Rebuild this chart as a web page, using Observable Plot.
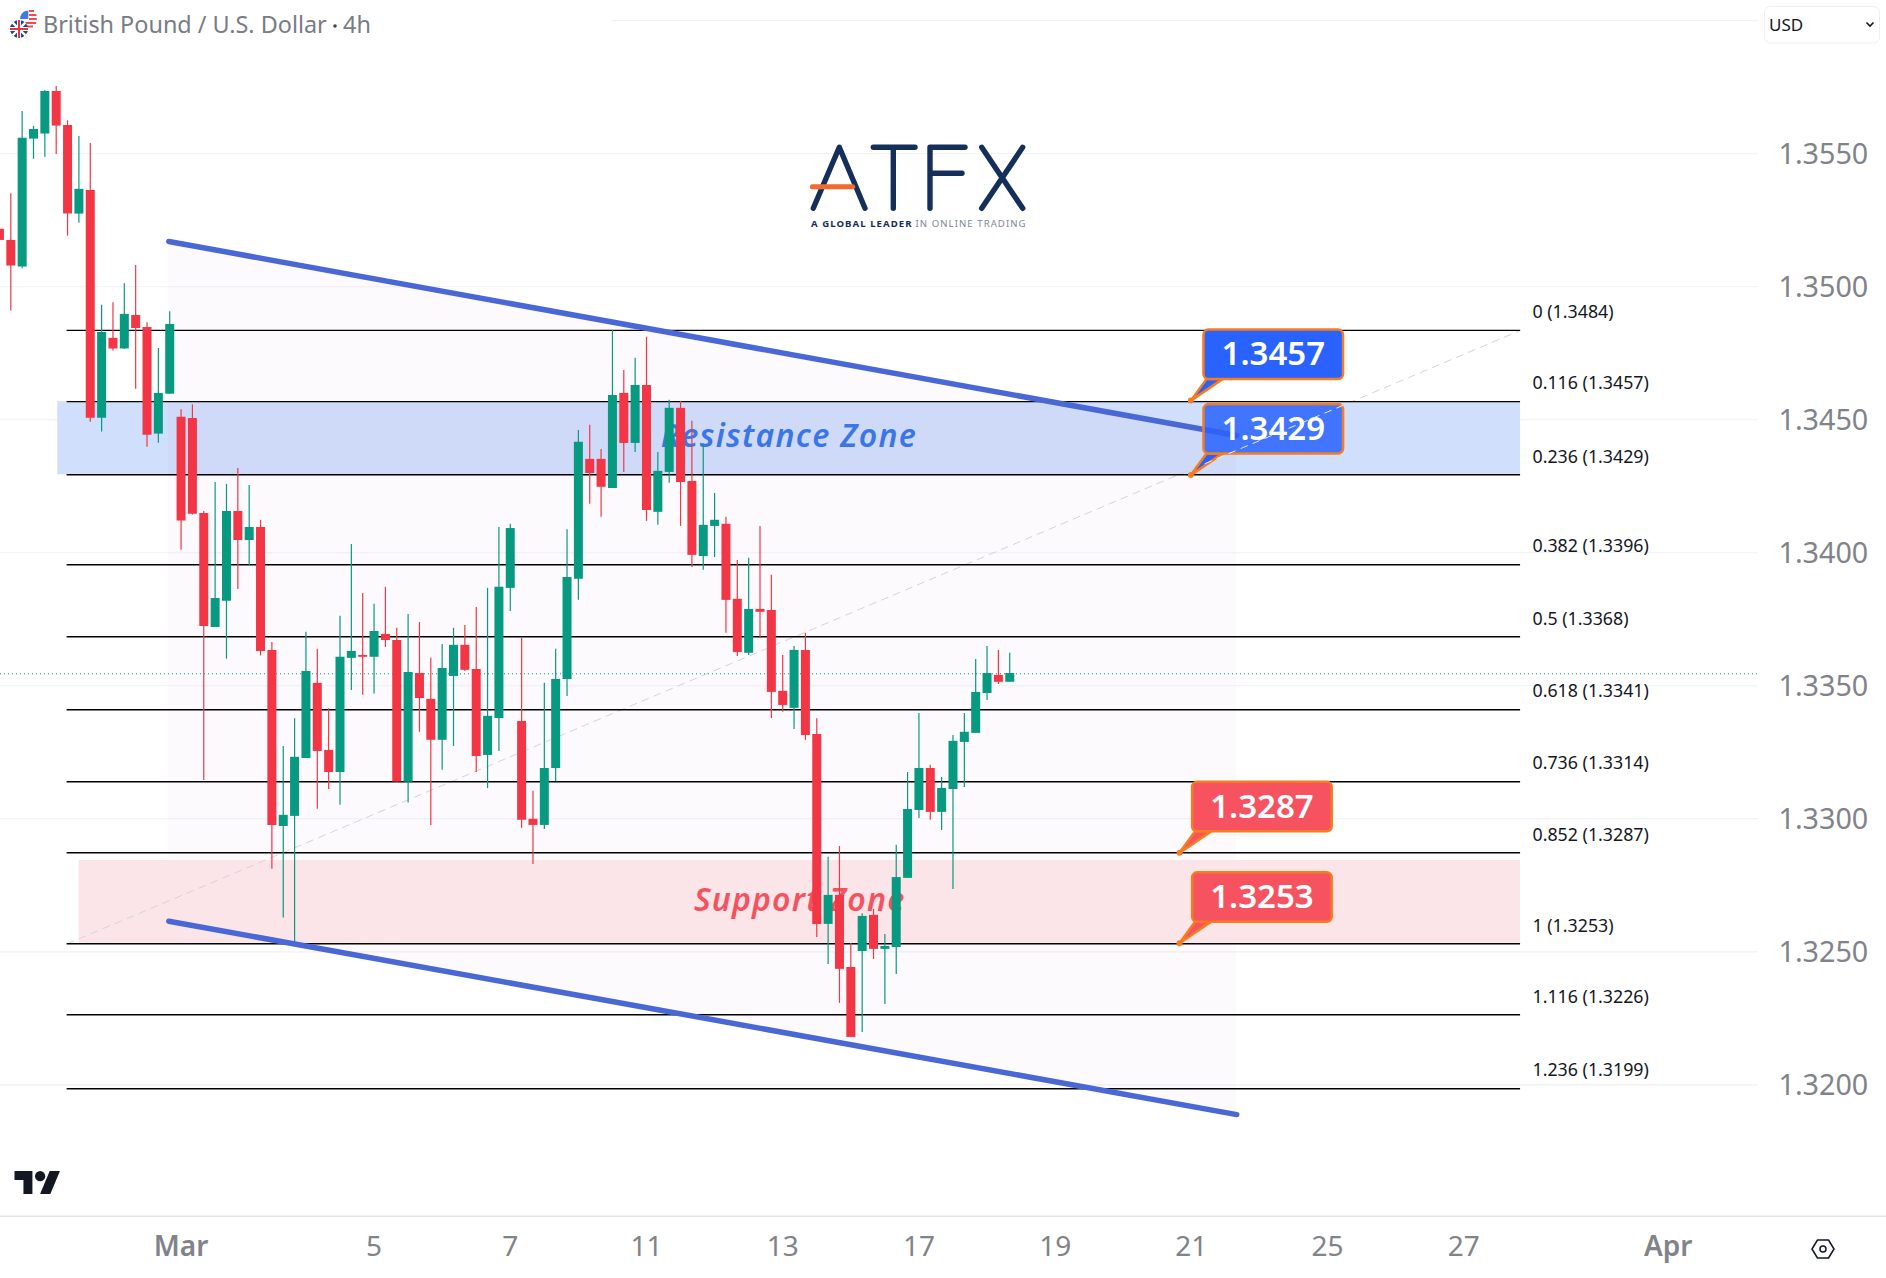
<!DOCTYPE html>
<html>
<head>
<meta charset="utf-8">
<title>GBP/USD 4h</title>
<script src="https://cdn.jsdelivr.net/npm/d3@7"></script>
<script src="https://cdn.jsdelivr.net/npm/@observablehq/plot@0.6"></script>
<style>
  html, body { margin: 0; padding: 0; background: #fff; }
  svg { display: block; }
</style>
</head>
<body>
<div id="chart"></div>
<script>
// Candles, in bar order. The first bar sits one slot left of index 0.
const open = [1.35216,1.35174,1.35074,1.35555,1.35574,1.35734,1.35606,1.35273,1.35362,1.34506,1.34806,1.34766,1.34892,1.34847,1.34446,1.34596,1.34509,1.34505,1.34148,1.33719,1.33818,1.34155,1.34046,1.34095,1.33633,1.32971,1.33009,1.33227,1.33509,1.33257,1.33174,1.33603,1.33614,1.33607,1.33693,1.33670,1.33137,1.33546,1.33449,1.33295,1.33535,1.33652,1.33561,1.33238,1.33377,1.33866,1.33366,1.32998,1.32975,1.33189,1.33524,1.33900,1.34351,1.34351,1.34242,1.34599,1.34411,1.34629,1.34152,1.34302,1.34543,1.34268,1.33986,1.34099,1.34107,1.33825,1.33622,1.33787,1.33783,1.33479,1.33415,1.33633,1.33317,1.32603,1.32712,1.32441,1.32501,1.32637,1.32509,1.32516,1.32776,1.33031,1.33189,1.33024,1.33110,1.33287,1.33321,1.33471,1.33539,1.33513];
const high = [1.35216,1.35350,1.35659,1.35603,1.35738,1.35753,1.35624,1.35565,1.35538,1.34930,1.34940,1.35011,1.35080,1.34865,1.34768,1.34906,1.34538,1.34556,1.34155,1.34264,1.34257,1.34317,1.34253,1.34122,1.33663,1.33272,1.33376,1.33701,1.33637,1.33414,1.33761,1.34031,1.33847,1.33806,1.33870,1.33716,1.33768,1.33738,1.33603,1.33655,1.33716,1.33727,1.33794,1.33866,1.34095,1.34107,1.33678,1.33103,1.33509,1.33637,1.34086,1.34460,1.34479,1.34388,1.34836,1.34685,1.34731,1.34810,1.34377,1.34573,1.34569,1.34494,1.34410,1.34223,1.34133,1.33971,1.33979,1.34099,1.33915,1.33614,1.33648,1.33697,1.33376,1.32855,1.32896,1.32531,1.32643,1.32659,1.32565,1.32900,1.33174,1.33396,1.33201,1.33155,1.33313,1.33396,1.33599,1.33648,1.33633,1.33622];
const low = [1.35174,1.34909,1.35068,1.35479,1.35487,1.35497,1.35190,1.35239,1.34491,1.34454,1.34758,1.34764,1.34615,1.34397,1.34412,1.34596,1.34009,1.34142,1.33144,1.33719,1.33600,1.33862,1.33950,1.33612,1.32810,1.32627,1.32536,1.33227,1.33036,1.33110,1.33051,1.33482,1.33464,1.33469,1.33644,1.33138,1.33059,1.33325,1.32975,1.33182,1.33272,1.33554,1.33174,1.33114,1.33253,1.33779,1.32964,1.32828,1.32960,1.33140,1.33460,1.33821,1.34182,1.34133,1.34242,1.34302,1.34377,1.34118,1.34103,1.34261,1.34099,1.33945,1.33934,1.33982,1.33697,1.33610,1.33614,1.33678,1.33377,1.33400,1.33336,1.33295,1.32554,1.32452,1.32306,1.32178,1.32197,1.32471,1.32302,1.32415,1.32776,1.33001,1.32994,1.32956,1.32734,1.33118,1.33321,1.33445,1.33505,1.33513];
const close = [1.35174,1.35078,1.35558,1.35591,1.35734,1.35604,1.35273,1.35366,1.34506,1.34828,1.34766,1.34896,1.34843,1.34442,1.34599,1.34858,1.34119,1.34145,1.33723,1.33828,1.34155,1.34046,1.34095,1.33629,1.32975,1.33013,1.33231,1.33554,1.33253,1.33174,1.33607,1.33629,1.33607,1.33704,1.33670,1.33138,1.33550,1.33452,1.33295,1.33565,1.33652,1.33558,1.33234,1.33385,1.33870,1.34091,1.32994,1.32975,1.33189,1.33524,1.33907,1.34415,1.34298,1.34246,1.34591,1.34411,1.34629,1.34159,1.34306,1.34543,1.34264,1.33990,1.34103,1.34122,1.33821,1.33625,1.33787,1.33776,1.33475,1.33426,1.33633,1.33313,1.32603,1.32712,1.32434,1.32178,1.32633,1.32509,1.32520,1.32779,1.33035,1.33189,1.33024,1.33114,1.33291,1.33325,1.33475,1.33546,1.33513,1.33546];
const firstBar = -1;

// Price and time axes
const priceTicks = [1.32, 1.325, 1.33, 1.335, 1.34, 1.345, 1.35, 1.355];
const dayTicks = [32, 44, 56, 68, 80, 92, 104, 116, 128];
const dayLabels = ["5", "7", "11", "13", "17", "19", "21", "25", "27"];
const monthTicks = [15, 146];
const monthLabels = ["Mar", "Apr"];
const lastPrice = 1.33545;

// Fibonacci retracement
const fibLevels = [1.34836, 1.34568, 1.34293, 1.33955, 1.33684, 1.33410, 1.33139, 1.32872, 1.32530, 1.32263, 1.31985];
const fibLabels = ["0 (1.3484)", "0.116 (1.3457)", "0.236 (1.3429)", "0.382 (1.3396)", "0.5 (1.3368)", "0.618 (1.3341)", "0.736 (1.3314)", "0.852 (1.3287)", "1 (1.3253)", "1.116 (1.3226)", "1.236 (1.3199)"];
const fibStart = 4.96, fibEnd = 133, fibLabelBar = 134.05;
const diagonalOverBox = [{x: 105.2, y: 1.34335}, {x: 117.3, y: 1.34553}];

// Falling channel
const channelBars = [13.92, 108];
const channelUpper = [1.35170, 1.34441];
const channelLower = [1.32615, 1.31888];

// Zones
const resistanceZone = [1.34293, 1.34568];
const supportZone = [1.32532, 1.32843];

// Callouts
const calloutValues = [1.3457, 1.3429, 1.3287, 1.3253];
const calloutBars = [104, 104, 103, 103];
const calloutFills = ["#2962ff", "#2962ff", "#f7525f", "#f7525f"];

const FONT = "'Noto Sans', sans-serif";
const GREEN = "#089981", RED = "#f23645", ORANGE = "#f57c1f", BLUE_LINE = "#4a68d5", AXIS = "#808389";

const candles = open.map((o, k) => ({i: firstBar + k, open: o, high: high[k], low: low[k], close: close[k]}));
const up = candles.filter(d => d.close >= d.open);
const down = candles.filter(d => d.close < d.open);
const fibs = fibLevels.map((level, k) => ({level, label: fibLabels[k]}));
const channel = channelBars.map((x, k) => ({x, upper: channelUpper[k], lower: channelLower[k]}));

const svgNS = "http://www.w3.org/2000/svg";
function el(parent, name, attrs, text) {
  const n = document.createElementNS(svgNS, name);
  for (const k in attrs) n.setAttribute(k, attrs[k]);
  if (text != null) n.textContent = text;
  parent.appendChild(n);
  return n;
}

// Callout bubbles, anchored on bar and price through the scales
function callouts(index, scales) {
  const g = document.createElementNS(svgNS, "g");
  calloutValues.forEach((v, k) => {
    const ax = scales.x(calloutBars[k]), ay = scales.y(v);
    const left = ax + 12.6, top = ay - 71, w = 139.6, h = 49.5;
    el(g, "polygon", {points: `${ax},${ay} ${left + 3},${top + h} ${left + 19},${top + h}`, fill: calloutFills[k], stroke: ORANGE, "stroke-width": 2.5, "stroke-linejoin": "round"});
    el(g, "circle", {cx: ax, cy: ay, r: 3, fill: ORANGE});
    el(g, "rect", {x: left, y: top, width: w, height: h, rx: 5, fill: calloutFills[k], stroke: ORANGE, "stroke-width": 2.5, "fill-opacity": k === 1 ? 0.86 : 1});
    el(g, "text", {x: left + w / 2, y: top + h / 2 - 1.5, "text-anchor": "middle", "dominant-baseline": "central", fill: "#fff", "font-family": FONT, "font-size": 33, "font-weight": 600}, v.toFixed(4));
  });
  return g;
}

// Screen furniture: symbol header, currency box, logos
function furniture() {
  const g = document.createElementNS(svgNS, "g");
  g.setAttribute("text-anchor", "start");
  // flags
  const us = el(g, "g", {});
  el(us, "circle", {cx: 28.3, cy: 19, r: 8.5, fill: "#fff"});
  el(us, "path", {d: "M20.5 16 A8.5 8.5 0 0 1 28.3 10.5 V19 H20 Z", fill: "#3d7be0"});
  el(us, "path", {d: "M29 11 H34 M29 15 H36.5 M29 19 H36.8 M25 23 H36 M27 26.5 H33", stroke: "#ef4c50", "stroke-width": 2, fill: "none"});
  const uk = el(g, "g", {});
  el(uk, "circle", {cx: 19, cy: 29, r: 9, fill: "#24408e"});
  el(uk, "path", {d: "M12.6 22.6 L25.4 35.4 M25.4 22.6 L12.6 35.4", stroke: "#fff", "stroke-width": 2.4});
  el(uk, "path", {d: "M19 20 V38 M10 29 H28", stroke: "#fff", "stroke-width": 4});
  el(uk, "path", {d: "M19 20 V38 M10 29 H28", stroke: "#e0383e", "stroke-width": 2});
  // header text
  el(g, "text", {x: 43, y: 33, fill: "#787b86", "font-family": FONT, "font-size": 23.4}, "British Pound / U.S. Dollar");
  el(g, "circle", {cx: 335, cy: 26, r: 1.8, fill: "#444"});
  el(g, "text", {x: 343, y: 33, fill: "#787b86", "font-family": FONT, "font-size": 23.4}, "4h");
  // currency box
  el(g, "rect", {x: 1764.5, y: 6.5, width: 115, height: 36.5, rx: 6, fill: "#fff", stroke: "#eceef2"});
  el(g, "text", {x: 1769, y: 30.5, fill: "#131722", "font-family": FONT, "font-size": 17}, "USD");
  el(g, "path", {d: "M1866.5 22.5 L1870 26 L1873.5 22.5", fill: "none", stroke: "#131722", "stroke-width": 1.6});
  // ATFX logo
  const navy = "#14305a";
  el(g, "path", {d: "M813.3 208.3 L839.3 147.3 L865 208.3 M873.3 147.3 H915 M893.3 147.3 V208.3 M930 208.3 V147.3 H965 M930 173.3 H962 M981.7 147.3 L1022.7 208.3 M1022.7 147.3 L981.7 208.3", fill: "none", stroke: navy, "stroke-width": 5.4, "stroke-linecap": "round", "stroke-linejoin": "round"});
  el(g, "path", {d: "M812.3 186.7 H852.7", stroke: "#f26a2e", "stroke-width": 5, "stroke-linecap": "round"});
  const tag = el(g, "text", {x: 811, y: 226.6, "font-family": FONT, "font-size": 9.6, "letter-spacing": 1.05, fill: "#7d8794"});
  el(tag, "tspan", {fill: navy, "font-weight": 700}, "A GLOBAL LEADER");
  el(tag, "tspan", {dx: 3}, "IN ONLINE TRADING");
  // TradingView mark
  el(g, "path", {transform: "translate(14.5 1165.9) scale(1.28)", d: "M14 22H7V11H0V4h14v18zM28 22h-8l7.5-18h8L28 22z", fill: "#131722"});
  el(g, "circle", {transform: "translate(14.5 1165.9) scale(1.28)", cx: 20, cy: 8, r: 4, fill: "#131722"});
  // settings icon
  el(g, "path", {d: "M1817.5 1240 H1828.5 L1834 1249 L1828.5 1258 H1817.5 L1812 1249 Z", fill: "none", stroke: "#131722", "stroke-width": 1.5, "stroke-linejoin": "round"});
  el(g, "circle", {cx: 1823, cy: 1249, r: 3, fill: "none", stroke: "#131722", "stroke-width": 1.5});
  return g;
}

const chart = Plot.plot({
  width: 1886,
  height: 1278,
  marginLeft: 0,
  marginRight: 128,
  marginTop: 0,
  marginBottom: 62.3,
  style: {background: "#fff", fontFamily: FONT},
  x: {type: "linear", domain: [-0.907, 153.96], axis: null},
  y: {type: "linear", domain: [1.31506, 1.36076], axis: null},
  marks: [
    // grid
    Plot.ruleY(priceTicks, {stroke: "#f0f1f5", strokeWidth: 1.2}),
    Plot.ruleY([1.36], {x1: () => 53, x2: () => 153.96, stroke: "#f0f1f5", strokeWidth: 1.2}),
    // blue zone under the channel tint, pink zone over it
    Plot.rectY([0], {x1: () => 4.14, x2: () => fibEnd, y1: () => resistanceZone[0], y2: () => resistanceZone[1], fill: "#d0dffb"}),
    Plot.areaY(channel, {x: "x", y1: "lower", y2: "upper", fill: "#9c30a8", fillOpacity: 0.022}),
    Plot.rectY([0], {x1: () => 6.02, x2: () => fibEnd, y1: () => supportZone[0], y2: () => supportZone[1], fill: "#fce5e8"}),
    // zone names
    Plot.text(["Resistance Zone"], {x: () => 68.55, y: () => 1.34437, text: d => d, fill: "#3a76e8", fontSize: 32, fontStyle: "italic", fontWeight: 600, fontFamily: FONT, className: "zone-resistance"}),
    Plot.text(["Support Zone"], {x: () => 69.5, y: () => 1.32692, text: d => d, fill: "#f4525f", fontSize: 32, fontStyle: "italic", fontWeight: 600, fontFamily: FONT, className: "zone-support"}),
    // fib diagonal
    Plot.line([{x: fibStart, y: fibLevels[8]}, {x: fibEnd, y: fibLevels[0]}], {x: "x", y: "y", stroke: "#d4d4d8", strokeWidth: 1, strokeDasharray: "7,6"}),
    // fib levels
    Plot.ruleY(fibs, {y: "level", x1: () => fibStart, x2: () => fibEnd, stroke: "#000", strokeWidth: 1.4}),
    Plot.text(fibs, {y: "level", x: () => fibLabelBar, text: "label", textAnchor: "start", lineAnchor: "middle", dy: -18, fill: "#131722", fontSize: 17.8, fontFamily: FONT}),
    // last price
    Plot.ruleY([lastPrice], {stroke: GREEN, strokeWidth: 1, strokeDasharray: "1,3"}),
    // candles
    Plot.ruleX(up, {x: "i", y1: "low", y2: "high", stroke: GREEN, strokeWidth: 1.2}),
    Plot.ruleX(down, {x: "i", y1: "low", y2: "high", stroke: RED, strokeWidth: 1.2}),
    Plot.ruleX(up, {x: "i", y1: "open", y2: "close", stroke: GREEN, strokeWidth: 9}),
    Plot.ruleX(down, {x: "i", y1: "open", y2: "close", stroke: RED, strokeWidth: 9}),
    // channel lines
    Plot.line(channel, {x: "x", y: "upper", stroke: BLUE_LINE, strokeWidth: 5.5}),
    Plot.line(channel, {x: "x", y: "lower", stroke: BLUE_LINE, strokeWidth: 5.5}),
    // callouts
    callouts,
    Plot.line(diagonalOverBox, {x: "x", y: "y", stroke: "#e8eefc", strokeWidth: 1, strokeDasharray: "7,6"}),
    // axes
    Plot.axisY(priceTicks, {anchor: "right", tickSize: 0, tickPadding: 20, tickFormat: d => d.toFixed(4), fontSize: 28.7, fill: AXIS, label: null, fontFamily: FONT, dy: 1.2}),
    Plot.axisX(dayTicks, {anchor: "bottom", tickSize: 0, tickPadding: 20, tickFormat: d => dayLabels[dayTicks.indexOf(d)], fontSize: 28, fill: AXIS, label: null, fontFamily: FONT}),
    Plot.axisX(monthTicks, {anchor: "bottom", tickSize: 0, tickPadding: 20, tickFormat: d => monthLabels[monthTicks.indexOf(d)], fontSize: 28, fontWeight: 600, fill: AXIS, label: null, fontFamily: FONT}),
    // bottom separator
    Plot.ruleY([1.31506], {x1: () => -0.907, x2: () => 165.4, stroke: "#e2e4ea", strokeWidth: 1.5, clip: false}),
    furniture
  ]
});
d3.select(chart).selectAll(".zone-resistance text").style("letter-spacing", "1.3px");
d3.select(chart).selectAll(".zone-support text").style("letter-spacing", "1.2px");
document.getElementById("chart").appendChild(chart);
</script>
</body>
</html>
